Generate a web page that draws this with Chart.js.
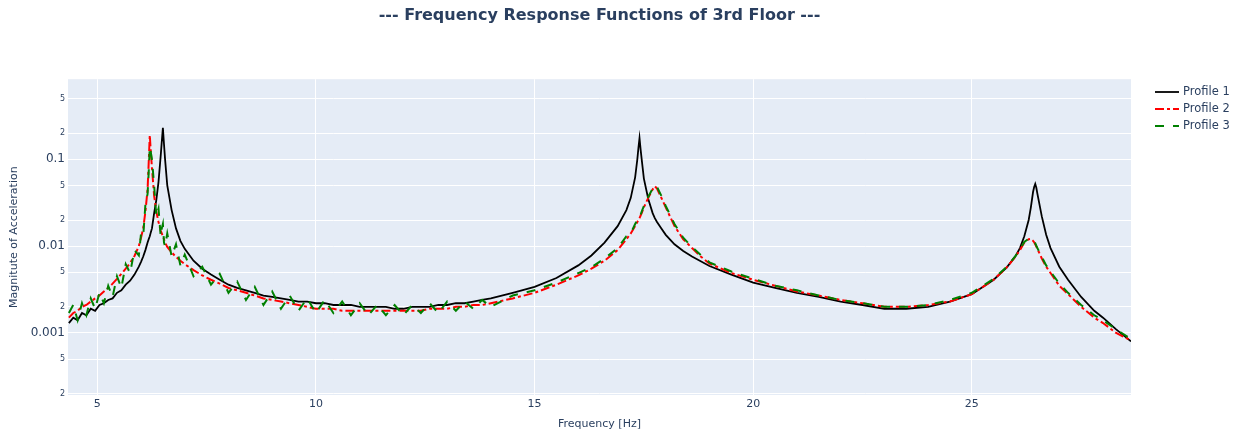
<!DOCTYPE html>
<html>
<head>
<meta charset="utf-8">
<script src="https://cdn.jsdelivr.net/npm/chart.js@4/dist/chart.umd.min.js"></script>
<style>
  html, body { margin: 0; padding: 0; background: #ffffff; }
  #frf { display: block; }
</style>
</head>
<body>
<canvas id="frf" width="1241" height="434"></canvas>
<script>
// ---- data ----
const titleText = '--- Frequency Response Functions of 3rd Floor ---';
const seriesNames = ['Profile 1', 'Profile 2', 'Profile 3'];

const freq = [
  4.35, 4.45, 4.55, 4.65, 4.75, 4.85, 4.95, 5.05, 5.15, 5.25, 5.35, 5.45, 5.55, 5.65, 5.75, 5.85, 5.95,
  6.0, 6.05, 6.1, 6.15, 6.175, 6.2, 6.225, 6.25, 6.3, 6.35, 6.4, 6.45, 6.475, 6.5, 6.525, 6.55, 6.6, 6.7, 6.8, 6.9, 7.0,
  7.2, 7.4, 7.6, 7.8, 8.0, 8.2, 8.4, 8.6, 8.8, 9.0, 9.2, 9.4, 9.6, 9.8, 10.0, 10.2, 10.4, 10.6, 10.8,
  11.0, 11.2, 11.4, 11.6, 11.8, 12.0, 12.2, 12.4, 12.6, 12.8, 13.0, 13.2, 13.4, 13.6, 13.8, 14.0,
  14.5, 15.0, 15.5, 16.0, 16.3, 16.6, 16.9, 17.1, 17.2, 17.3, 17.35, 17.375, 17.4, 17.425, 17.45, 17.5, 17.6, 17.7,
  17.75, 17.8, 17.9, 18.0, 18.2, 18.4, 18.6, 18.8, 19.0, 19.5, 20.0, 20.5, 21.0, 21.5, 22.0, 22.5,
  23.0, 23.5, 24.0, 24.5, 25.0, 25.5, 25.8, 26.0, 26.1, 26.2, 26.3, 26.35, 26.4, 26.425, 26.45, 26.475, 26.5, 26.6,
  26.7, 26.8, 27.0, 27.2, 27.5, 27.8, 28.0, 28.3, 28.64
];

const mag1 = [
  0.0013, 0.0015, 0.0014, 0.0017, 0.0016, 0.0019, 0.0018, 0.0021, 0.0022, 0.0024, 0.0025, 0.0029, 0.0031, 0.0036, 0.0040, 0.0047, 0.0058,
  0.0066, 0.0076, 0.0090, 0.011, 0.012, 0.013, 0.0145, 0.016, 0.024, 0.034, 0.055, 0.11, 0.16, 0.23, 0.15, 0.10, 0.050, 0.026, 0.016, 0.0115, 0.0093,
  0.0068, 0.0055, 0.0047, 0.0041, 0.0036, 0.0033, 0.0031, 0.0029, 0.0027, 0.0026, 0.0025, 0.0024, 0.0023, 0.0023, 0.0022, 0.0022, 0.0021, 0.0021, 0.0021,
  0.0020, 0.0020, 0.0020, 0.0020, 0.0019, 0.0019, 0.0020, 0.0020, 0.0020, 0.0021, 0.0021, 0.0022, 0.0022, 0.0023, 0.0024, 0.0025,
  0.0029, 0.0034, 0.0043, 0.0060, 0.0078, 0.011, 0.017, 0.026, 0.036, 0.062, 0.10, 0.135, 0.175, 0.13, 0.10, 0.060, 0.035, 0.024,
  0.021, 0.019, 0.016, 0.0135, 0.0105, 0.0088, 0.0076, 0.0067, 0.0059, 0.0047, 0.0038, 0.0033, 0.0029, 0.0026, 0.0023, 0.0021,
  0.0019, 0.0019, 0.0020, 0.0023, 0.0028, 0.0041, 0.0057, 0.0077, 0.0095, 0.013, 0.020, 0.028, 0.042, 0.048, 0.052, 0.047, 0.040, 0.022,
  0.0135, 0.0095, 0.0058, 0.0041, 0.0026, 0.0018, 0.0015, 0.0011, 0.00080
];

const mag2 = [
  0.0015, 0.0017, 0.0018, 0.0020, 0.0021, 0.0023, 0.0025, 0.0027, 0.0030, 0.0033, 0.0037, 0.0042, 0.0048, 0.0055, 0.0064, 0.0077, 0.0100,
  0.0125, 0.016, 0.025, 0.045, 0.09, 0.19, 0.12, 0.08, 0.038, 0.025, 0.019, 0.015, 0.014, 0.013, 0.012, 0.011, 0.0098, 0.0085, 0.0075, 0.0068, 0.0062,
  0.0053, 0.0046, 0.0041, 0.0037, 0.0033, 0.0031, 0.0029, 0.0027, 0.0025, 0.0024, 0.0023, 0.0022, 0.0021, 0.0020, 0.0019, 0.0019, 0.0019, 0.0018, 0.0018,
  0.0018, 0.0018, 0.0018, 0.0018, 0.0018, 0.0018, 0.0018, 0.0018, 0.0019, 0.0019, 0.0019, 0.0020, 0.0020, 0.0021, 0.0021, 0.0022,
  0.0025, 0.0029, 0.0036, 0.0046, 0.0055, 0.0068, 0.0090, 0.012, 0.014, 0.017, 0.019, 0.020, 0.021, 0.0225, 0.024, 0.028, 0.036, 0.045,
  0.049, 0.046, 0.036, 0.028, 0.017, 0.012, 0.0095, 0.0076, 0.0063, 0.0049, 0.0041, 0.0035, 0.0030, 0.0027, 0.0024, 0.0022,
  0.0020, 0.0020, 0.0021, 0.0023, 0.0028, 0.0041, 0.0057, 0.0076, 0.0090, 0.011, 0.0120, 0.0121, 0.0115, 0.0111, 0.0105, 0.0099, 0.0093, 0.0072,
  0.0058, 0.0049, 0.0035, 0.0028, 0.0020, 0.0015, 0.0013, 0.0010, 0.00082
];

const mag3 = [
  0.0017, 0.0021, 0.0014, 0.0022, 0.0016, 0.0025, 0.0019, 0.0029, 0.0022, 0.0035, 0.0026, 0.0045, 0.0033, 0.0062, 0.0049, 0.0090, 0.0078,
  0.014, 0.013, 0.030, 0.040, 0.07, 0.14, 0.12, 0.10, 0.05, 0.022, 0.027, 0.013, 0.016, 0.018, 0.011, 0.010, 0.014, 0.0076, 0.0105, 0.0060, 0.0080,
  0.0045, 0.0058, 0.0036, 0.0048, 0.0029, 0.0039, 0.0024, 0.0034, 0.0021, 0.0030, 0.0019, 0.0027, 0.0018, 0.0025, 0.0017, 0.0024, 0.0017, 0.0023, 0.0016,
  0.0022, 0.0016, 0.0021, 0.0016, 0.0021, 0.0016, 0.0021, 0.0017, 0.0022, 0.0017, 0.0023, 0.0018, 0.0023, 0.0019, 0.0024, 0.0020,
  0.0027, 0.0031, 0.0038, 0.0049, 0.0057, 0.0072, 0.0095, 0.013, 0.014, 0.018, 0.020, 0.021, 0.021, 0.023, 0.025, 0.029, 0.037, 0.046,
  0.050, 0.048, 0.038, 0.029, 0.018, 0.0125, 0.0098, 0.0079, 0.0065, 0.0051, 0.0042, 0.0035, 0.0031, 0.0027, 0.0024, 0.0022,
  0.0020, 0.0020, 0.0021, 0.0024, 0.0029, 0.0042, 0.0058, 0.0077, 0.0092, 0.0112, 0.0122, 0.0120, 0.0117, 0.0113, 0.0108, 0.0101, 0.0095, 0.0075,
  0.0060, 0.0051, 0.0037, 0.0029, 0.0021, 0.0016, 0.0014, 0.0011, 0.00085
];

const xTicks = [5, 10, 15, 20, 25];
const yTicks = [0.0002, 0.0005, 0.001, 0.002, 0.005, 0.01, 0.02, 0.05, 0.1, 0.2, 0.5];
const yTickText = ['2', '5', '0.001', '2', '5', '0.01', '2', '5', '0.1', '2', '5'];

// ---- styling ----
const INK = '#2a3f5f';
const FONT = "'DejaVu Sans', Verdana, sans-serif";
const lineColors = ['#000000', '#ff0000', '#008000'];
const lineDashes = [[], [9, 3, 3, 3], [9, 9]];
const lineWidths = [1.8, 2, 2];

const toPoints = (ys) => freq.map((f, i) => ({ x: f, y: ys[i] }));
const mags = [mag1, mag2, mag3];

const plotBg = {
  id: 'plotBg',
  beforeDraw(chart) {
    const { ctx, chartArea: a } = chart;
    ctx.save();
    ctx.fillStyle = '#e5ecf6';
    ctx.fillRect(a.left, a.top, a.right - a.left, a.bottom - a.top);
    ctx.restore();
  }
};

// plotly-style legend to the right of the plot
const sideLegend = {
  id: 'sideLegend',
  afterDraw(chart) {
    const { ctx } = chart;
    const x0 = 1155, y0 = 92, rowH = 17;
    ctx.save();
    ctx.font = '11.5px ' + FONT;
    ctx.textBaseline = 'middle';
    chart.data.datasets.forEach((ds, i) => {
      const y = y0 + i * rowH;
      ctx.beginPath();
      ctx.strokeStyle = ds.borderColor;
      ctx.lineWidth = ds.borderWidth;
      ctx.setLineDash(ds.borderDash || []);
      ctx.moveTo(x0, y);
      ctx.lineTo(x0 + 24, y);
      ctx.stroke();
      ctx.setLineDash([]);
      ctx.fillStyle = INK;
      ctx.fillText(ds.label, x0 + 28, y);
    });
    ctx.restore();
  }
};

new Chart(document.getElementById('frf'), {
  type: 'line',
  data: {
    datasets: seriesNames.map((name, i) => ({
      label: name,
      data: toPoints(mags[i]),
      borderColor: lineColors[i],
      borderWidth: lineWidths[i],
      borderDash: lineDashes[i],
      pointRadius: 0,
      tension: 0,
      fill: false,
      order: 3 - i
    }))
  },
  options: {
    responsive: false,
    animation: false,
    layout: { padding: { left: 0, right: 110, top: 0, bottom: 0 } },
    plugins: {
      legend: { display: false },
      tooltip: { enabled: false },
      title: {
        display: true,
        text: titleText,
        fullSize: false,
        color: INK,
        font: { family: FONT, size: 16, weight: 'bold' },
        padding: { top: 6, bottom: 54 }
      }
    },
    scales: {
      x: {
        type: 'linear',
        min: 4.33,
        max: 28.64,
        afterBuildTicks: (s) => { s.ticks = xTicks.map(v => ({ value: v })); },
        afterFit: (s) => { s.height = 39; },
        border: { display: false },
        grid: { color: '#ffffff', lineWidth: 1, drawTicks: false },
        ticks: {
          autoSkip: false,
          maxRotation: 0,
          padding: 3,
          color: INK,
          font: { family: FONT, size: 11 }
        },
        title: {
          display: true,
          text: 'Frequency [Hz]',
          color: INK,
          font: { family: FONT, size: 11 },
          padding: { top: 0, bottom: 3 }
        }
      },
      y: {
        type: 'logarithmic',
        min: 0.000193,
        max: 0.837,
        afterBuildTicks: (s) => { s.ticks = yTicks.map(v => ({ value: v })); },
        afterFit: (s) => { s.width = 68; },
        border: { display: false },
        grid: { color: '#ffffff', lineWidth: 1, drawTicks: false },
        ticks: {
          autoSkip: false,
          padding: 3,
          color: INK,
          callback: (v, i) => yTickText[i],
          font: (c) => ({ family: FONT, size: yTickText[c.index] && yTickText[c.index].startsWith('0') ? 12 : 8 })
        },
        title: {
          display: true,
          text: 'Magnitute of Acceleration',
          color: INK,
          font: { family: FONT, size: 11 },
          padding: { top: 8, bottom: 0 }
        }
      }
    }
  },
  plugins: [plotBg, sideLegend]
});
</script>
</body>
</html>
